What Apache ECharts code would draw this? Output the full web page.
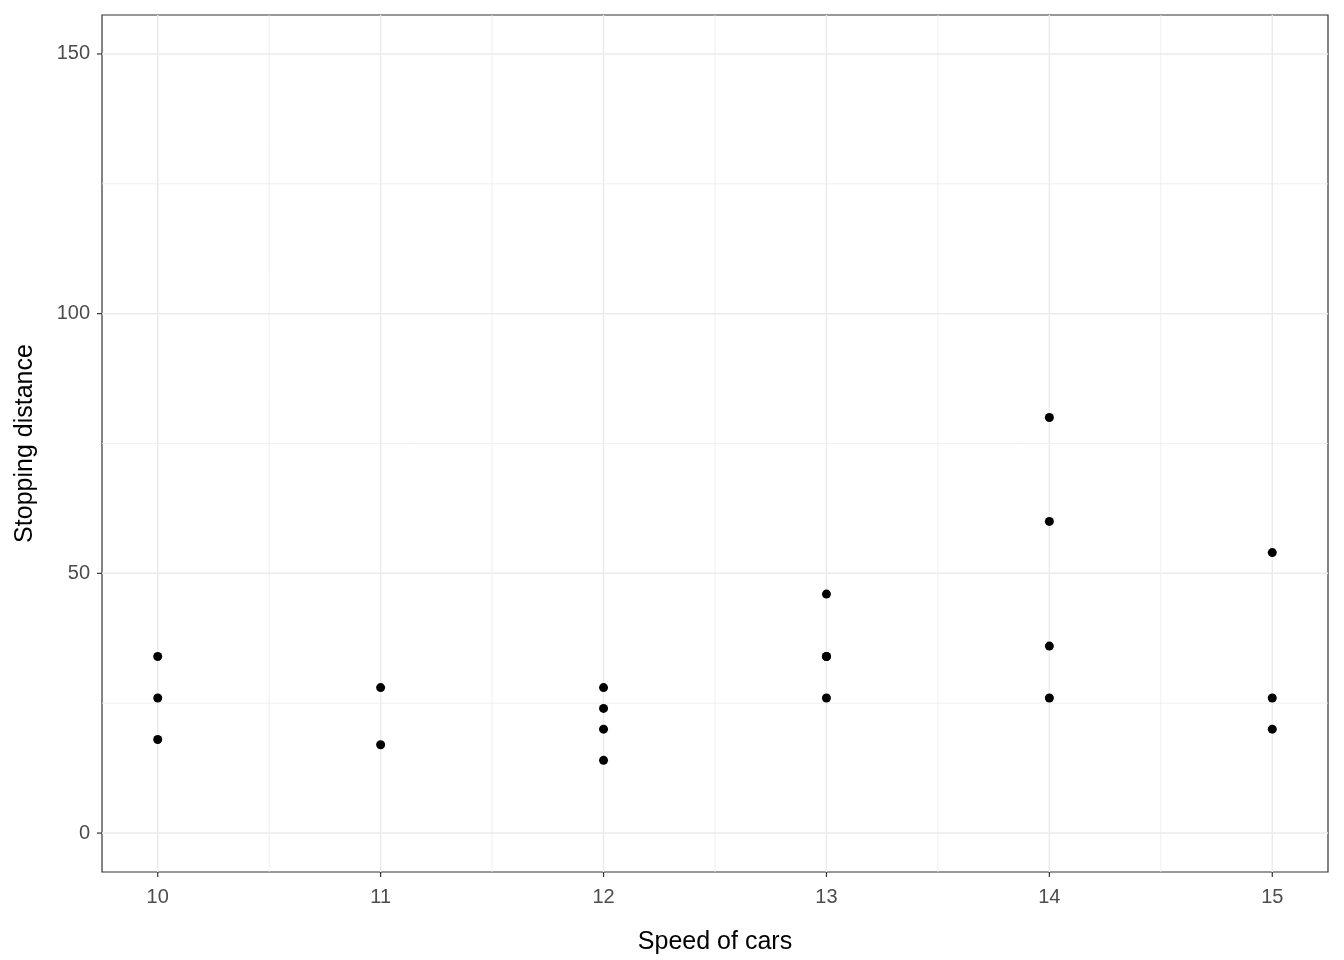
<!DOCTYPE html>
<html><head><meta charset="utf-8">
<script src="https://cdn.jsdelivr.net/npm/echarts@6/dist/echarts.min.js"></script>
<style>html,body{margin:0;padding:0;background:#fff}#c{width:1344px;height:960px}</style>
</head><body><div id="c"></div>
<script>
const speed = [10,10,10,11,11,12,12,12,12,13,13,13,13,14,14,14,14,15,15,15];
const dist  = [18,26,34,17,28,14,20,24,28,26,34,34,46,26,36,60,80,20,26,54];
const xMajor = [10,11,12,13,14,15];
const xMinor = [10.5,11.5,12.5,13.5,14.5];
const yMajor = [0,50,100,150];
const yMinor = [25,75,125];
const X0=9.75, X1=15.25, Y0=-7.5, Y1=157.5;
const chart = echarts.init(document.getElementById('c'));
function lines(vals, isX, w, tick){
  return {type:'custom', silent:true, clip:!tick, z:tick?5:1,
    data: vals.map(v=>[v]),
    renderItem:(p,api)=>{
      const v=api.value(0);
      let a,b;
      if(isX){ a=api.coord([v,Y0]); b=tick?[a[0],a[1]+5]:api.coord([v,Y1]); }
      else { a=api.coord([X0,v]); b=tick?[a[0]-5,a[1]]:api.coord([X1,v]); }
      return {type:'line', shape:{x1:a[0],y1:a[1],x2:b[0],y2:b[1]},
        style:{stroke:tick?'#333333':'#ebebeb', lineWidth:w}};
    }};
}
chart.setOption({
  animation:false,
  grid:{left:102, right:16, top:15, bottom:88, show:true, borderColor:'#333333', borderWidth:1.2, backgroundColor:'#fff'},
  xAxis:{type:'value', min:X0, max:X1, interval:0.25,
    name:'Speed of cars', nameLocation:'middle', nameGap:58,
    nameTextStyle:{color:'#000', fontSize:25, fontFamily:'Liberation Sans'},
    axisLine:{show:false}, axisTick:{show:false}, splitLine:{show:false},
    axisLabel:{margin:15, color:'#4d4d4d', fontSize:20, fontFamily:'Liberation Sans',
      formatter:v=>Math.abs(v-Math.round(v))<1e-9?String(Math.round(v)):''}},
  yAxis:{type:'value', min:Y0, max:Y1, interval:2.5,
    name:'Stopping distance', nameLocation:'middle', nameGap:64,
    nameTextStyle:{color:'#000', fontSize:25, fontFamily:'Liberation Sans'},
    axisLine:{show:false}, axisTick:{show:false}, splitLine:{show:false},
    axisLabel:{margin:12, color:'#4d4d4d', fontSize:20, fontFamily:'Liberation Sans',
      formatter:v=>Math.abs(v%50)<1e-9?String(v):''}},
  series:[
    lines(xMinor,true,0.8,false), lines(yMinor,false,0.8,false),
    lines(xMajor,true,1.5,false), lines(yMajor,false,1.5,false),
    lines(xMajor,true,1.2,true), lines(yMajor,false,1.2,true),
    {type:'scatter', z:10, symbolSize:9, itemStyle:{color:'#000', opacity:1},
     data: speed.map((s,i)=>[s,dist[i]])}
  ]
});
</script></body></html>
